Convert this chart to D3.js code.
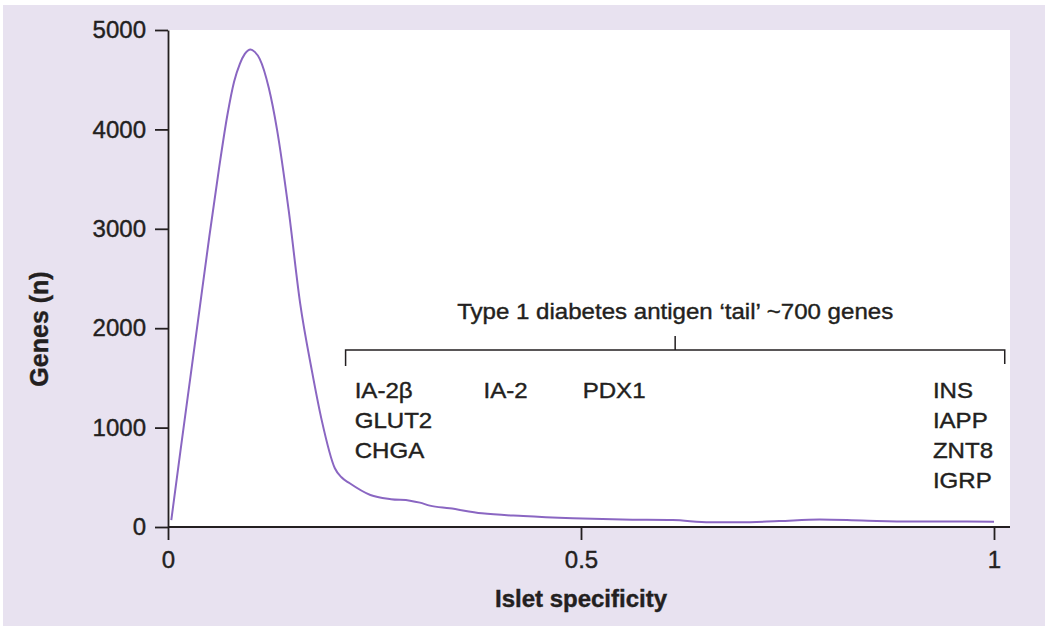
<!DOCTYPE html>
<html lang="en">
<head>
  <meta charset="UTF-8">
  <title>Islet specificity</title>
  <script src="https://d3js.org/d3.v7.min.js"></script>
  <style>
    body { margin: 0; background: #fff; }
    text { font-family: "Liberation Sans", Arial, sans-serif; fill: #231f20; stroke: #231f20; stroke-width: 0.4; }
  </style>
</head>
<body>
  <svg width="1050" height="628"></svg>

  <script>
    // curve data
    const specificity = [0.004, 0.015, 0.027, 0.038, 0.050, 0.062, 0.072, 0.080, 0.087, 0.093, 0.100, 0.105, 0.111,
      0.122, 0.132, 0.146, 0.160, 0.174, 0.186, 0.202, 0.210, 0.220, 0.245, 0.270, 0.293, 0.305, 0.317, 0.341, 0.380,
      0.430, 0.490, 0.550, 0.611, 0.656, 0.692, 0.740, 0.789, 0.840, 0.900, 0.950, 1.000];
    const genes = [70, 760, 1500, 2180, 2920, 3620, 4150, 4480, 4660, 4760, 4805, 4780, 4710,
      4418, 3998, 3192, 2250, 1581, 1078, 591, 500, 440, 322, 280, 265, 245, 215, 188, 138,
      110, 88, 75, 70, 47, 47, 60, 75, 65, 55, 55, 53];

    const yTicks = [0, 1000, 2000, 3000, 4000, 5000];
    const xTicks = [0, 0.5, 1];
    const xTickLabels = ["0", "0.5", "1"];

    const tailTitle = "Type 1 diabetes antigen \u2018tail\u2019 ~700 genes";
    const tailRange = [0.215, 1.013];   // bracket extent in specificity units
    const antigenGroups = [
      { at: 0.226, names: ["IA-2\u03b2", "GLUT2", "CHGA"] },
      { at: 0.382, names: ["IA-2"] },
      { at: 0.502, names: ["PDX1"] },
      { at: 0.926, names: ["INS", "IAPP", "ZNT8", "IGRP"] }
    ];

    const svg = d3.select("svg");

    // page background + plot panel
    svg.append("rect").attr("x", 3).attr("y", 5).attr("width", 1042).attr("height", 621).attr("fill", "#e8e2f0");

    const x = d3.scaleLinear().domain([0, 1]).range([168, 994]);
    const y = d3.scaleLinear().domain([0, 5000]).range([527, 30]);

    svg.append("rect")
      .attr("x", x(0)).attr("y", y(5000))
      .attr("width", 1010 - x(0)).attr("height", y(0) - y(5000))
      .attr("fill", "#fff");

    // helper: text a little wider than the font (the figure is stretched sideways)
    function label(str, px, py, size, anchor, sx, weight) {
      return svg.append("text")
        .attr("transform", `translate(${px},${py}) scale(${sx},1)`)
        .attr("text-anchor", anchor)
        .attr("font-size", size)
        .attr("font-weight", weight || "normal")
        .text(str);
    }

    // y axis
    const yAxis = svg.append("g")
      .attr("transform", `translate(${x(0)},0)`)
      .call(d3.axisLeft(y).tickValues(yTicks).tickSize(13).tickPadding(9).tickSizeOuter(0).tickFormat(d3.format("d")));
    yAxis.select(".domain").attr("stroke", "#231f20").attr("stroke-width", 1.8);
    yAxis.selectAll(".tick line").attr("stroke", "#231f20").attr("stroke-width", 1.8);
    yAxis.selectAll(".tick text")
      .attr("font-size", 24)
      .attr("font-family", null);

    // x axis
    const xAxis = svg.append("g")
      .attr("transform", `translate(0,${y(0)})`)
      .call(d3.axisBottom(x).tickValues(xTicks).tickSize(13).tickPadding(11)
        .tickFormat((d, i) => xTickLabels[i]));
    xAxis.select(".domain").remove();
    xAxis.append("line")
      .attr("x1", x(0)).attr("x2", 1010)
      .attr("stroke", "#231f20").attr("stroke-width", 1.8);
    xAxis.selectAll(".tick line").attr("stroke", "#231f20").attr("stroke-width", 1.8);
    xAxis.selectAll(".tick text")
      .attr("font-size", 24)
      .attr("font-family", null);

    // axis titles
    label("Islet specificity", 581, 607, 24, "middle", 1, "bold");
    svg.append("text")
      .attr("transform", "translate(48,329) rotate(-90)")
      .attr("text-anchor", "middle")
      .attr("font-size", 25)
      .attr("font-weight", "bold")
      .text("Genes (n)");

    // distribution curve
    const line = d3.line()
      .x(d => x(d[0]))
      .y(d => y(d[1]))
      .curve(d3.curveMonotoneX);

    svg.append("path")
      .datum(d3.zip(specificity, genes))
      .attr("d", line)
      .attr("fill", "none")
      .attr("stroke", "#8a66c2")
      .attr("stroke-width", 2);

    // bracket for the antigen tail
    const bx0 = x(tailRange[0]), bx1 = x(tailRange[1]);
    const bmid = (bx0 + bx1) / 2;
    svg.append("path")
      .attr("d", `M${bx0},366 V350 H${bx1} V364 M${bmid},350 V336`)
      .attr("fill", "none")
      .attr("stroke", "#231f20")
      .attr("stroke-width", 1.5);

    const annSx = 1.07;
    label(tailTitle, bmid, 319, 22.5, "middle", annSx);

    antigenGroups.forEach(g => {
      g.names.forEach((n, i) => {
        label(n, x(g.at), 398 + i * 30, 22.5, "start", annSx);
      });
    });
  </script>
</body>
</html>
